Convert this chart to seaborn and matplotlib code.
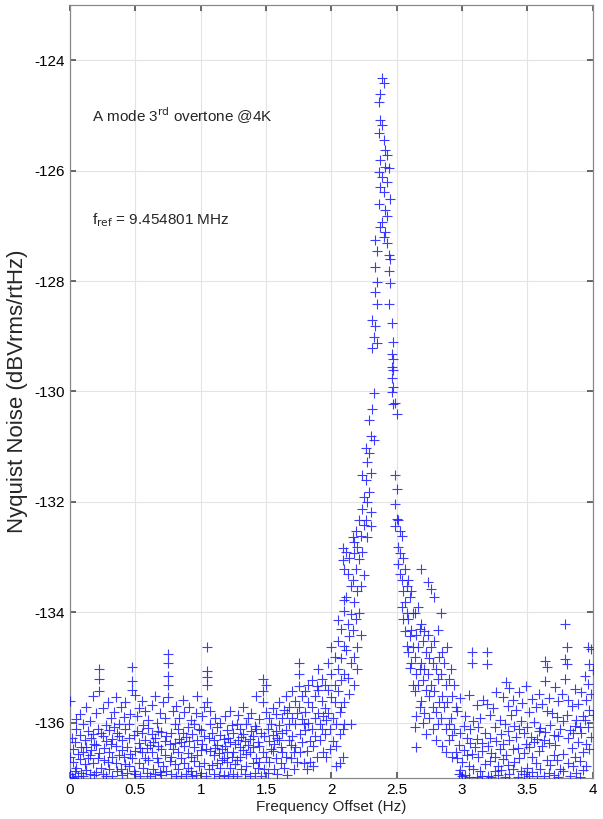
import numpy as np
import pandas as pd
import matplotlib
matplotlib.use("Agg")
import matplotlib.pyplot as plt
import seaborn as sns

# ---- data: frequency columns (Hz) and noise readings (dBVrms/rtHz) ----
left_freq = [0.0000, 0.0125, 0.0250, 0.0375, 0.0500, 0.0625, 0.0750, 0.0875, 0.1000, 0.1125,
             0.1250, 0.1375, 0.1500, 0.1625, 0.1750, 0.1875, 0.2000, 0.2125, 0.2250, 0.2375,
             0.2500, 0.2625, 0.2750, 0.2875, 0.3000, 0.3125, 0.3250, 0.3375, 0.3500, 0.3625,
             0.3750, 0.3875, 0.4000, 0.4125, 0.4250, 0.4375, 0.4500, 0.4625, 0.4750, 0.4875,
             0.5000, 0.5125, 0.5250, 0.5375, 0.5500, 0.5625, 0.5750, 0.5875, 0.6000, 0.6125,
             0.6250, 0.6375, 0.6500, 0.6625, 0.6750, 0.6875, 0.7000, 0.7125, 0.7250, 0.7375,
             0.7500, 0.7625, 0.7750, 0.7875, 0.8000, 0.8125, 0.8250, 0.8375, 0.8500, 0.8625,
             0.8750, 0.8875, 0.9000, 0.9125, 0.9250, 0.9375, 0.9500, 0.9625, 0.9750, 0.9875,
             1.0000, 1.0125, 1.0250, 1.0375, 1.0500, 1.0625, 1.0750, 1.0875, 1.1000, 1.1125,
             1.1250, 1.1375, 1.1500, 1.1625, 1.1750, 1.1875, 1.2000, 1.2125, 1.2250, 1.2375,
             1.2500, 1.2625, 1.2750, 1.2875, 1.3000, 1.3125, 1.3250, 1.3375, 1.3500, 1.3625,
             1.3750, 1.3875, 1.4000, 1.4125, 1.4250, 1.4375, 1.4500, 1.4625, 1.4750, 1.4875,
             1.5000, 1.5125, 1.5250, 1.5375, 1.5500, 1.5625, 1.5750, 1.5875, 1.6000, 1.6125,
             1.6250, 1.6375, 1.6500, 1.6625, 1.6750, 1.6875, 1.7000, 1.7125, 1.7250, 1.7375,
             1.7500, 1.7625, 1.7750, 1.7875, 1.8000, 1.8125, 1.8250, 1.8375, 1.8500, 1.8625,
             1.8750, 1.8875, 1.9000, 1.9125, 1.9250, 1.9375, 1.9500, 1.9625, 1.9750, 1.9875,
             2.0000, 2.0125, 2.0250, 2.0375, 2.0500, 2.0625, 2.0750, 2.0875, 2.1000]
left_noise = [
    [-136.62, -136.93, -135.61], [-136.27, -136.98], [-136.48, -136.71, -137.0],
    [-136.35, -136.88], [-136.12, -136.81, -135.93], [-136.57, -136.96],
    [-136.22, -136.66, -135.84], [-136.44, -136.91], [-136.03, -136.52, -136.97],
    [-136.31, -136.74], [-135.72, -136.43, -136.86], [-136.15, -136.64],
    [-136.58, -136.92, -135.96], [-136.27, -136.49], [-136.21, -136.73, -135.52],
    [-136.39, -136.95], [-136.41, -135.83, -136.89], [-136.63, -136.12],
    [-135.03, -135.21, -135.42, -136.54], [-136.81, -136.18], [-136.23, -135.74, -136.92],
    [-136.46, -136.67], [-136.04, -136.33, -136.97], [-135.63, -136.71],
    [-136.52, -136.13, -136.84], [-135.92, -136.38], [-136.61, -136.29, -136.96],
    [-135.81, -136.08], [-136.42, -136.73, -135.53], [-136.88, -136.19],
    [-136.24, -136.58, -136.02], [-136.83, -135.71], [-136.49, -136.94, -136.31],
    [-135.89, -136.62], [-136.11, -136.74, -135.62], [-136.43, -136.91],
    [-136.28, -136.79, -136.03], [-135.84, -136.56], [-134.99, -135.24, -135.41, -136.63],
    [-136.22, -136.87], [-136.51, -135.49, -136.93], [-136.14, -135.88],
    [-136.37, -136.72, -135.73], [-136.96, -136.45], [-136.18, -135.61, -136.53],
    [-136.82, -136.04], [-136.64, -136.32, -135.79], [-136.91, -136.46],
    [-136.09, -136.68, -135.94], [-136.41, -136.97], [-136.53, -135.68, -136.21],
    [-136.84, -136.35], [-136.27, -136.92, -135.51], [-136.63, -136.01],
    [-136.71, -136.14, -136.42], [-135.82, -136.89], [-136.48, -136.95, -136.17],
    [-135.63, -136.79], [-136.33, -136.59, -135.91], [-136.87, -136.24],
    [-134.75, -134.91, -135.15, -135.31, -135.53], [-136.38, -136.69], [-136.61, -136.19, -136.93],
    [-135.78, -136.47], [-136.36, -136.02, -136.74], [-135.69, -136.96],
    [-136.52, -136.83, -136.11], [-135.92, -136.29], [-136.34, -136.64, -136.97],
    [-135.58, -136.18], [-136.73, -136.42, -135.81], [-136.92, -136.26],
    [-136.54, -136.07, -136.81], [-135.72, -136.33], [-136.88, -136.61, -135.94],
    [-136.21, -136.97], [-136.43, -136.69, -136.03], [-135.83, -136.94],
    [-136.31, -136.58, -135.52], [-136.79, -136.12], [-136.49, -136.13, -136.91],
    [-135.87, -136.38], [-136.72, -136.23, -135.71], [-136.96, -136.47],
    [-134.62, -135.06, -135.17, -135.31, -135.62], [-136.28, -136.84], [-135.79, -136.02, -136.51],
    [-136.77, -136.19], [-136.59, -136.32, -136.93], [-135.91, -136.46],
    [-136.41, -136.73, -136.08], [-136.97, -136.54], [-136.22, -136.82, -136.01],
    [-136.48, -136.67], [-136.63, -136.29, -136.94], [-135.88, -136.42],
    [-136.71, -136.13, -136.52], [-136.96, -136.27], [-136.34, -136.81, -135.79],
    [-136.04, -136.62], [-136.53, -136.18, -136.92], [-136.39, -136.74],
    [-136.68, -136.02, -136.97], [-135.86, -136.31], [-136.44, -136.61, -136.12],
    [-136.83, -136.26], [-136.21, -136.49, -135.72], [-136.93, -136.33],
    [-136.57, -136.03, -136.79], [-135.91, -136.41], [-136.29, -136.52, -136.96],
    [-135.82, -136.14], [-136.72, -136.24, -136.43], [-136.91, -136.06],
    [-135.51, -136.11, -136.63], [-136.34, -136.82], [-136.42, -136.71, -135.93],
    [-136.97, -136.19], [-135.21, -135.43, -135.62, -136.53], [-136.23, -136.84],
    [-135.32, -135.81, -136.62], [-136.12, -136.91], [-136.33, -135.92, -136.71],
    [-136.02, -136.48], [-136.51, -135.73, -136.22], [-136.83, -136.39],
    [-136.14, -136.64, -135.84], [-136.93, -136.28], [-136.31, -135.62, -136.04],
    [-136.72, -136.43], [-135.91, -136.53, -136.18], [-136.81, -135.77],
    [-135.52, -136.13, -136.61], [-135.83, -136.94], [-136.32, -135.71, -136.02],
    [-136.63, -136.41], [-135.42, -135.91, -136.23], [-136.52, -136.84],
    [-135.61, -136.03, -136.44], [-135.82, -136.71], [-134.91, -135.12, -135.33, -135.72],
    [-136.21, -136.53], [-135.51, -135.93, -136.34], [-136.72, -136.02],
    [-135.81, -135.42, -136.13], [-136.51, -136.83], [-135.63, -136.01, -135.32],
    [-136.33, -136.71], [-135.22, -135.72, -136.12], [-136.42, -136.78],
    [-135.52, -135.91, -136.23], [-135.33, -136.62], [-135.02, -135.41, -135.82],
    [-136.03, -136.31], [-135.61, -135.21, -136.12], [-136.52, -135.88],
    [-135.32, -135.73, -136.21], [-135.94, -136.62], [-134.92, -135.41, -135.83],
    [-136.11, -136.48], [-134.62, -135.12, -135.53], [-135.92, -136.33],
    [-134.81, -135.32, -135.63], [-136.02, -136.42, -136.78], [-134.13, -134.52, -135.03, -135.42],
    [-135.81, -136.21, -136.73], [-134.31, -134.83, -135.22, -135.71],
    [-136.12, -136.62, -132.84, -133.05],
    [-133.22, -133.78, -133.98, -134.61, -135.12, -135.63, -136.02],
]

peak_freq = [2.1125, 2.1250, 2.1375, 2.1500, 2.1625, 2.1750, 2.1875, 2.2000, 2.2125, 2.2250,
             2.2375, 2.2500, 2.2625, 2.2750, 2.2875, 2.3000, 2.3125, 2.3250, 2.3375, 2.3500,
             2.3625, 2.3750, 2.3875, 2.4000, 2.4125, 2.4250, 2.4375, 2.4500, 2.4625, 2.4750,
             2.4875, 2.5000, 2.5125, 2.5250, 2.5375, 2.5500, 2.5625, 2.5750, 2.5875, 2.6000,
             2.6125, 2.6250, 2.6375, 2.6500, 2.6625, 2.6750, 2.6875, 2.7000, 2.7125, 2.7250,
             2.7375, 2.7500, 2.7625, 2.7750, 2.7875, 2.8000, 2.8125, 2.8250, 2.8375, 2.8500,
             2.8625, 2.8750, 2.8875, 2.9000, 2.9125, 2.9250, 2.9375, 2.9500]
peak_noise = [
    [-132.90, -133.72, -134.68], [-133.31, -134.21, -135.19], [-133.02, -134.42, -135.48],
    [-133.53, -134.03, -134.91, -136.02], [-132.64, -133.41, -134.32],
    [-132.72, -132.93, -133.82, -134.81, -135.31], [-132.52, -133.22, -134.12],
    [-132.81, -133.62, -134.63, -135.02], [-132.33, -133.03, -134.02], [-132.61, -133.52, -134.41],
    [-131.52, -132.13, -132.91], [-131.91, -132.42, -133.32], [-131.02, -131.61, -132.32],
    [-131.28, -132.01, -132.63], [-130.52, -131.12, -131.82], [-130.81, -131.48, -132.19, -132.43],
    [-128.71, -129.22, -130.31], [-129.02, -130.02, -130.88],
    [-127.25, -127.74, -128.19, -128.82], [-127.46, -128.01, -128.41, -129.13],
    [-124.75, -125.32, -126.02, -126.61], [-124.61, -125.08, -125.81, -126.29, -127.02],
    [-124.32, -125.18, -126.11, -126.93], [-124.41, -125.44, -126.38, -127.21],
    [-125.62, -125.93, -126.72, -127.12], [-125.71, -126.21, -126.83, -127.31],
    [-125.96, -127.52, -127.82, -128.41], [-126.52, -127.61, -128.03],
    [-128.76, -129.32, -129.56, -129.76, -130.01], [-129.11, -129.41, -129.62, -129.91, -130.22],
    [-130.21, -131.52, -132.03, -132.44], [-130.41, -131.76, -132.31],
    [-132.32, -132.81, -133.12], [-132.52, -132.92, -133.31], [-132.62, -133.42, -133.91],
    [-133.02, -133.61, -134.12], [-133.21, -133.82, -134.33], [-133.52, -134.02, -134.61],
    [-133.41, -134.12, -134.72], [-133.72, -134.43, -135.01], [-133.62, -134.32, -134.92],
    [-134.01, -134.63, -135.31], [-134.02, -134.81, -135.42, -136.07],
    [-134.41, -135.11, -135.88, -136.44], [-133.91, -134.62, -135.32], [-134.31, -135.02, -135.72],
    [-133.22, -134.21, -134.92, -135.61], [-134.52, -135.22, -136.01], [-134.33, -135.03, -135.82],
    [-134.72, -135.41, -136.21], [-133.45, -134.41, -135.12], [-134.82, -135.52, -135.91],
    [-133.58, -134.62, -135.31], [-134.91, -135.72, -136.12], [-133.72, -134.52, -135.42],
    [-135.02, -135.81, -136.31], [-134.32, -135.21, -136.02], [-134.81, -135.62],
    [-134.02, -135.12, -135.92], [-134.71, -135.51, -136.42], [-134.92, -135.72],
    [-135.31, -136.11, -136.52], [-134.62, -135.62], [-135.21, -136.02, -136.31],
    [-135.02, -135.91], [-135.52, -136.22, -136.62], [-135.32, -136.12], [-135.72, -136.52],
]

right_freq = [2.9625, 2.9750, 2.9875, 3.0000, 3.0125, 3.0250, 3.0375, 3.0500, 3.0625, 3.0750,
              3.0875, 3.1000, 3.1125, 3.1250, 3.1375, 3.1500, 3.1625, 3.1750, 3.1875, 3.2000,
              3.2125, 3.2250, 3.2375, 3.2500, 3.2625, 3.2750, 3.2875, 3.3000, 3.3125, 3.3250,
              3.3375, 3.3500, 3.3625, 3.3750, 3.3875, 3.4000, 3.4125, 3.4250, 3.4375, 3.4500,
              3.4625, 3.4750, 3.4875, 3.5000, 3.5125, 3.5250, 3.5375, 3.5500, 3.5625, 3.5750,
              3.5875, 3.6000, 3.6125, 3.6250, 3.6375, 3.6500, 3.6625, 3.6750, 3.6875, 3.7000,
              3.7125, 3.7250, 3.7375, 3.7500, 3.7625, 3.7750, 3.7875, 3.8000, 3.8125, 3.8250,
              3.8375, 3.8500, 3.8625, 3.8750, 3.8875, 3.9000, 3.9125, 3.9250, 3.9375, 3.9500,
              3.9625, 3.9750, 3.9875, 4.0000]
right_noise = [
    [-135.78, -136.64], [-136.41, -136.93], [-135.55, -136.18, -136.86], [-136.71, -136.97],
    [-136.05, -136.49], [-135.88, -136.94], [-136.27, -136.58], [-135.49, -136.79, -136.99],
    [-136.36, -136.12], [-134.71, -134.92, -136.57], [-136.83, -135.97], [-136.44],
    [-135.67, -136.29, -136.98], [-136.62, -136.07], [-135.91, -136.88], [-136.36, -136.51, -136.97],
    [-135.58], [-136.19, -136.74], [-134.72, -134.93, -135.66], [-136.42, -136.96],
    [-135.86, -136.27, -136.69], [-136.55, -136.99], [-135.73], [-136.08, -136.61, -136.87],
    [-135.44, -136.33], [-136.78, -136.94], [-135.94, -136.47], [-136.21, -136.85],
    [-135.53, -136.39, -136.66], [-136.02, -136.98], [-135.26, -136.58], [-135.69, -136.14, -136.77],
    [-135.37, -136.31, -136.92], [-135.85], [-135.59, -136.47, -136.83], [-136.05, -136.71],
    [-135.77, -136.26], [-136.46, -136.99], [-135.45, -136.12, -136.64], [-135.96, -136.87],
    [-135.64], [-136.18, -136.55, -136.93], [-135.33, -136.38], [-136.07, -136.81],
    [-135.81, -136.44, -136.97], [-136.25], [-135.57, -136.62, -136.89], [-135.99, -136.35],
    [-135.71, -136.73], [-136.29, -136.96], [-135.48, -136.14, -136.51], [-136.09, -136.84],
    [-135.66, -136.42], [-136.31, -136.97], [-134.88, -135.24, -136.17], [-134.99, -135.79, -136.68],
    [-135.55, -136.36, -136.91], [-136.04, -136.76], [-135.83], [-136.22, -136.58, -136.95],
    [-135.36, -136.41], [-135.89, -136.67], [-135.61, -136.23, -136.99], [-136.11, -136.84],
    [-135.47], [-135.97, -136.56, -136.88], [-134.21, -134.85, -135.21], [-134.63, -134.94, -135.86],
    [-135.58, -136.27, -136.73], [-136.13, -136.97], [-135.69, -136.45], [-136.19, -136.78],
    [-135.39, -136.06, -136.62], [-135.94, -136.91], [-135.66, -136.34], [-136.08, -136.69, -136.98],
    [-135.45, -136.18], [-135.87, -136.53, -136.86], [-135.16, -135.95], [-135.58, -136.38, -136.79],
    [-134.62, -135.29, -136.07], [-134.93, -135.76, -136.48], [-134.66, -135.47, -136.25],
    [-135.04, -135.86],
]

x_ticks = [0, 0.5, 1, 1.5, 2, 2.5, 3, 3.5, 4]
x_tick_labels = ["0", "0.5", "1", "1.5", "2", "2.5", "3", "3.5", "4"]
y_ticks = [-136, -134, -132, -130, -128, -126, -124]
y_tick_labels = ["-136", "-134", "-132", "-130", "-128", "-126", "-124"]

rows = []
for freqs, noises in ((left_freq, left_noise), (peak_freq, peak_noise), (right_freq, right_noise)):
    for f, vals in zip(freqs, noises):
        for v in vals:
            rows.append((f, v))
df = pd.DataFrame(rows, columns=["freq", "noise"])

sns.set_theme(style="white")
plt.rcParams["font.family"] = ["Liberation Sans", "DejaVu Sans"]

fig = plt.figure(figsize=(6.03, 8.19), dpi=100)
ax = fig.add_axes([0.116, 0.050, 0.867, 0.944])

sns.scatterplot(data=df, x="freq", y="noise", marker="+", color="#1a1aff",
                s=45, linewidth=0.8, alpha=0.85, ax=ax, zorder=3)

ax.set_xlim(0, 4)
ax.set_ylim(-137, -123)
ax.set_xticks(x_ticks)
ax.set_xticklabels(x_tick_labels)
ax.set_yticks(y_ticks)
ax.set_yticklabels(y_tick_labels)
ax.grid(True, color="#e3e3e3", linewidth=0.8, zorder=0)
ax.set_axisbelow(True)
ax.tick_params(direction="in", length=4, labelsize=11, colors="#555555",
               labelcolor="black", top=True, right=True, bottom=True, left=True)
for s in ax.spines.values():
    s.set_color("#888888")
    s.set_linewidth(0.9)

ax.set_xlabel("Frequency Offset (Hz)", fontsize=11, labelpad=2)
ax.set_ylabel("Nyquist Noise (dBVrms/rtHz)", fontsize=16, labelpad=5)

ax.text(0.165, -125.0, r"A mode 3$^{\rm rd}$ overtone @4K", fontsize=11, va="center")
ax.text(0.165, -126.9, r"f$_{\rm ref}$ = 9.454801 MHz", fontsize=11, va="center")

fig.savefig("out.png", dpi=100)
